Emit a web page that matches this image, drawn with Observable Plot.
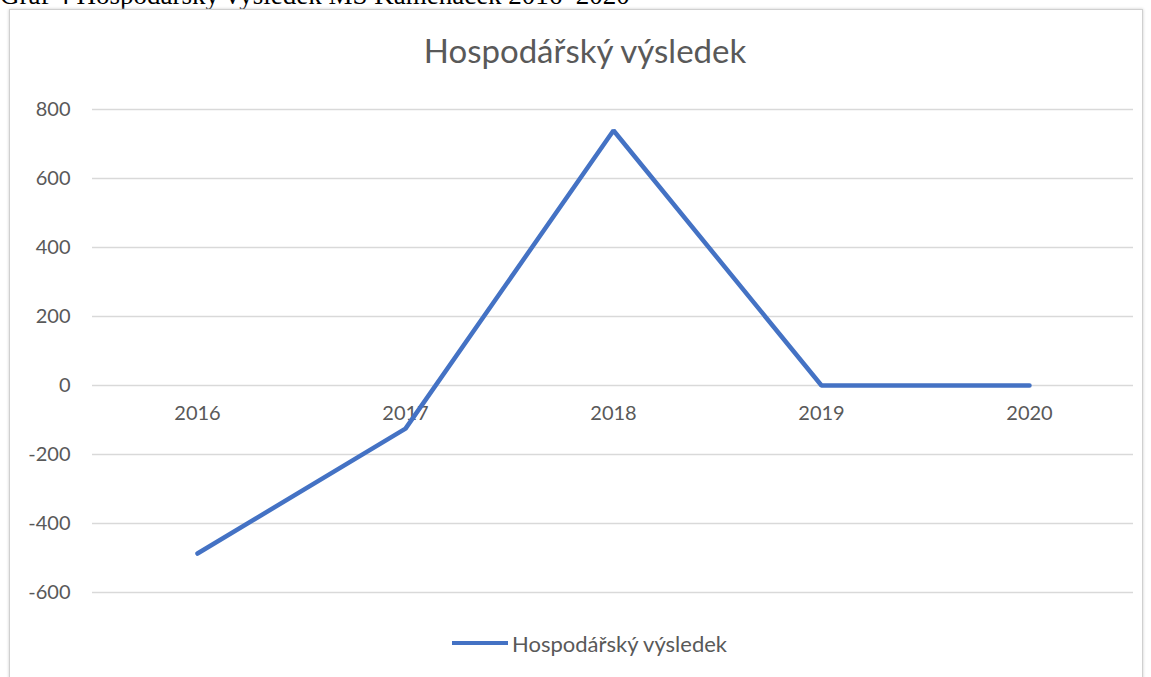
<!DOCTYPE html>
<html><head><meta charset="utf-8">
<script src="https://cdn.jsdelivr.net/npm/d3@7"></script>
<script src="https://cdn.jsdelivr.net/npm/@observablehq/plot@0.6"></script>
<style>
body{margin:0;background:#fff;width:1151px;height:677px;overflow:hidden;position:relative;}
#caption{position:absolute;left:0;top:-18px;font-family:"Liberation Serif",serif;font-size:27px;line-height:27px;color:#000;white-space:nowrap;}
#frame{position:absolute;left:9px;top:9px;width:1132px;height:670px;border:1px solid #d0d0d0;box-shadow:0 0 3px #ccc;background:#fff;}
#chart{position:absolute;left:0;top:0;}
#title{position:absolute;left:0;width:1170px;top:31px;text-align:center;font-family:Lato,sans-serif;font-size:33px;line-height:1.2;color:#595959;}
#legend{position:absolute;left:452px;top:630px;height:26px;font-family:Lato,sans-serif;font-size:22px;color:#595959;display:flex;align-items:center;}
#legend span.sw{display:inline-block;width:56px;height:4px;background:#4472C4;margin-right:4px;}
</style></head>
<body>
<div id="caption">Graf 4 Hospodářský výsledek MŠ Kameňáček 2016–2020</div>
<div id="frame"></div>
<div id="chart"></div>
<div id="title">Hospodářský výsledek</div>
<div id="legend"><span class="sw"></span>Hospodářský výsledek</div>
<script>
const years = ["2016","2017","2018","2019","2020"];
const values = [-487, -125, 739, 0, 0];
const yTicks = [-600,-400,-200,0,200,400,600,800];

const data = years.map((y,i)=>({year:y, value:values[i]}));

const chart = Plot.plot({
  width:1151, height:677,
  marginLeft:92, marginRight:18, marginTop:109, marginBottom:85,
  style:{background:"transparent", fontFamily:"Lato, sans-serif", fontSize:"20px", color:"#595959"},
  x:{type:"point", domain:years, padding:0.5, axis:null},
  y:{domain:[-600,800], ticks:yTicks, label:null},
  marks:[
    Plot.gridY(yTicks,{stroke:"#d9d9d9", strokeOpacity:1, strokeWidth:1.3}),
    Plot.axisY(yTicks,{tickSize:0, tickPadding:22, label:null, fill:"#595959", fontSize:20, tickFormat:d=>String(d)}),
    Plot.text(data,{x:"year", y:()=>0, text:"year", dy:28, fill:"#595959", fontSize:20}),
    Plot.line(data,{x:"year", y:"value", stroke:"#4472C4", strokeWidth:4.5, strokeLinejoin:"miter"})
  ]
});
document.getElementById("chart").appendChild(chart);
</script>
</body></html>
